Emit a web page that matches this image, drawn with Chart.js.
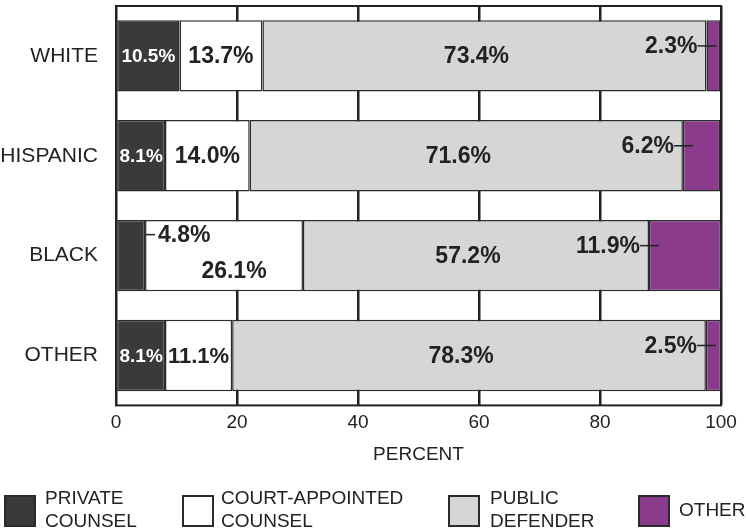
<!DOCTYPE html>
<html>
<head>
<meta charset="utf-8">
<script src="https://cdn.jsdelivr.net/npm/chart.js@4/dist/chart.umd.min.js"></script>
<style>
  html, body { margin: 0; padding: 0; background: #fff; }
  canvas { display: block; }
</style>
</head>
<body>
<canvas id="chart" width="746" height="529"></canvas>
<script>
const categories = ['WHITE', 'HISPANIC', 'BLACK', 'OTHER'];
const privateCounsel = [10.5, 8.1, 4.8, 8.1];
const courtAppointed = [13.7, 14.0, 26.1, 11.1];
const publicDefender = [73.4, 71.6, 57.2, 78.3];
const otherCounsel = [2.3, 6.2, 11.9, 2.5];
const seriesNames = [['PRIVATE', 'COUNSEL'], ['COURT-APPOINTED', 'COUNSEL'], ['PUBLIC', 'DEFENDER'], ['OTHER']];
const xTicks = [0, 20, 40, 60, 80, 100];

const FONT = "'Liberation Sans', Arial, sans-serif";
const INK = '#222';
const colors = ['#3a3a3a', '#ffffff', '#d6d6d6', '#8a3b8c'];

// frame round the plot area
const framePlugin = {
  id: 'frame',
  beforeDatasetsDraw(chart) {
    const a = chart.chartArea;
    const ctx = chart.ctx;
    ctx.save();
    ctx.strokeStyle = INK;
    ctx.lineWidth = 2;
    ctx.strokeRect(a.left, a.top, a.right - a.left, a.bottom - a.top);
    ctx.restore();
  }
};

function fitFont(ctx, text, maxSize, room) {
  let size = maxSize;
  ctx.font = 'bold ' + size + 'px ' + FONT;
  while (size > 10 && ctx.measureText(text).width > room) {
    size -= 1;
    ctx.font = 'bold ' + size + 'px ' + FONT;
  }
  return size;
}

// value labels, some with a short leader line
const labelPlugin = {
  id: 'valueLabels',
  afterDatasetsDraw(chart) {
    const ctx = chart.ctx;
    ctx.save();
    ctx.textBaseline = 'middle';
    chart.data.datasets.forEach((ds, i) => {
      const meta = chart.getDatasetMeta(i);
      meta.data.forEach((bar, j) => {
        const v = ds.data[j];
        const text = v.toFixed(1) + '%';
        const start = bar.base;
        const end = bar.x;
        const mid = (start + end) / 2;
        const y = bar.y;
        ctx.fillStyle = INK;
        ctx.strokeStyle = INK;
        ctx.lineWidth = 1.5;
        if (i === 0) {
          if (v >= 6) {
            fitFont(ctx, text, 19, end - start - 4);
            ctx.fillStyle = '#fff';
            ctx.textAlign = 'center';
            ctx.fillText(text, mid, y + 1);
          } else {
            ctx.font = 'bold 23px ' + FONT;
            ctx.beginPath();
            ctx.moveTo(end + 1, y - 21);
            ctx.lineTo(end + 10, y - 21);
            ctx.stroke();
            ctx.textAlign = 'left';
            ctx.fillText(text, end + 13, y - 20);
          }
        } else if (i === 1) {
          const shifted = chart.data.datasets[0].data[j] < 6;
          fitFont(ctx, text, 23, end - start - 4);
          ctx.textAlign = 'center';
          ctx.fillText(text, mid + (shifted ? 10 : 0), y + (shifted ? 16 : 1));
        } else if (i === 2) {
          fitFont(ctx, text, 23, end - start - 4);
          ctx.textAlign = 'center';
          ctx.fillText(text, mid - 8, y + 1);
        } else {
          ctx.font = 'bold 23px ' + FONT;
          ctx.textAlign = 'right';
          ctx.fillText(text, start - 9, y - 9);
          ctx.beginPath();
          ctx.moveTo(start - 9, y - 10);
          ctx.lineTo(start + 10, y - 10);
          ctx.stroke();
        }
      });
    });
    ctx.restore();
  }
};

// legend along the bottom, two-line labels
const legendPlugin = {
  id: 'bottomLegend',
  afterDraw(chart) {
    const ctx = chart.ctx;
    const boxX = [5, 183, 449, 639];
    const textX = [45, 221, 490, 679];
    ctx.save();
    ctx.font = '19px ' + FONT;
    ctx.textBaseline = 'middle';
    ctx.textAlign = 'left';
    chart.data.datasets.forEach((ds, i) => {
      ctx.fillStyle = ds.backgroundColor;
      ctx.fillRect(boxX[i], 496, 30, 30);
      ctx.strokeStyle = '#2b2b2b';
      ctx.lineWidth = 2;
      ctx.strokeRect(boxX[i], 496, 30, 30);
      ctx.fillStyle = INK;
      const lines = seriesNames[i];
      if (lines.length === 1) {
        ctx.fillText(lines[0], textX[i], 511);
      } else {
        ctx.fillText(lines[0], textX[i], 499);
        ctx.fillText(lines[1], textX[i], 522);
      }
    });
    ctx.restore();
  }
};

const series = [privateCounsel, courtAppointed, publicDefender, otherCounsel];

new Chart(document.getElementById('chart'), {
  type: 'bar',
  data: {
    labels: categories,
    datasets: series.map((values, i) => ({
      label: seriesNames[i].join(' '),
      data: values,
      backgroundColor: colors[i],
      borderColor: '#2b2b2b',
      borderWidth: 1.5,
      borderSkipped: false,
      barPercentage: 0.715,
      categoryPercentage: 1
    }))
  },
  options: {
    indexAxis: 'y',
    responsive: false,
    animation: false,
    layout: { padding: { top: 6, right: 25, bottom: 63, left: 0 } },
    plugins: {
      legend: { display: false },
      tooltip: { enabled: false }
    },
    scales: {
      x: {
        stacked: true,
        min: 0,
        max: 100,
        afterBuildTicks(scale) {
          scale.ticks = xTicks.map(v => ({ value: v }));
        },
        grid: { color: INK, lineWidth: 2.5, drawTicks: false },
        border: { display: false },
        ticks: { color: INK, font: { family: FONT, size: 19 }, padding: 6 },
        title: {
          display: true,
          text: 'PERCENT',
          color: INK,
          font: { family: FONT, size: 19 },
          padding: { top: 3, bottom: 0 }
        }
      },
      y: {
        stacked: true,
        grid: { display: false },
        border: { display: false },
        ticks: { color: INK, font: { family: FONT, size: 21 }, padding: 10 },
        afterFit(scale) {
          scale.width = 116;
          scale.paddingTop = 0;
          scale.paddingBottom = 0;
        }
      }
    }
  },
  plugins: [framePlugin, labelPlugin, legendPlugin]
});
</script>
</body>
</html>
